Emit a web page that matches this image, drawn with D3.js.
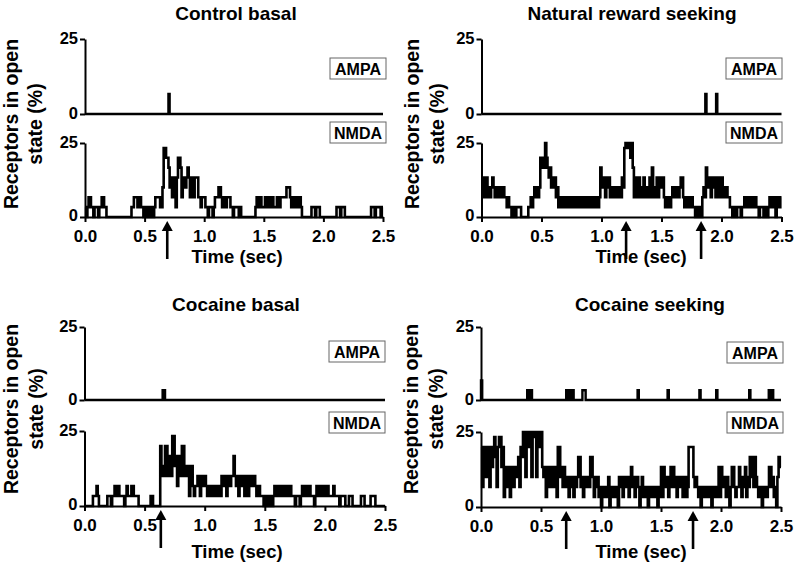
<!DOCTYPE html>
<html><head><meta charset="utf-8">
<script src="https://cdn.jsdelivr.net/npm/d3@7"></script>
<style>
body{margin:0;background:#fff}
svg{display:block}
text{font-family:"Liberation Sans",Arial,Helvetica,sans-serif;font-weight:bold;fill:#000}
</style>
</head><body>
<svg id="chart" width="800" height="572"></svg>
<script>
// ---------------- DATA ----------------
const panelTitles = ["Control basal", "Natural reward seeking", "Cocaine basal", "Cocaine seeking"];
const xTickValues = [0, 0.5, 1.0, 1.5, 2.0, 2.5];
const yTickValues = [0, 25];
const timeStep = 0.01;          // s per sample of the NMDA traces
const percentPerReceptor = 100 / 30; // one open receptor (%)

// NMDA traces: number of open receptors, one value per 0.01 s (0.0 - 2.5 s)
const nmdaControlBasal = [
 1,0,1,2,2,1,1,0,1,1, 1,0,1,1,2,2,1,1,0,0, 0,0,0,0,0,0,0,0,0,0, 0,0,0,0,0,0,0,0,0,1,
 1,2,2,2,1,2,2,1,1,0, 1,0,1,1,0,1,1,0,1,2, 2,2,2,1,1,3,7,7,6,6, 5,3,4,2,4,3,1,4,6,6,
 5,2,4,4,3,4,5,4,2,4, 4,2,4,4,4,2,2,1,2,2, 2,1,1,0,1,1,1,0,1,2, 2,2,3,3,2,1,2,2,1,2,
 2,2,1,1,0,1,1,1,1,0, 1,0,0,0,0,0,0,0,0,0, 0,0,0,1,2,1,1,2,1,1, 1,2,2,1,2,1,2,2,1,1,
 1,2,1,1,2,2,2,2,2,3, 3,3,2,1,2,2,1,2,2,1, 2,1,0,0,0,0,0,0,0,0, 1,1,1,0,1,1,1,0,0,0,
 0,0,0,0,0,0,0,0,0,0, 0,1,1,1,0,1,1,1,0,0, 0,0,0,0,0,0,0,0,0,0, 0,0,0,0,0,0,0,0,0,0,
 1,1,1,0,1,1,1,1,0,1
];
const nmdaNaturalReward = [
 3,4,2,3,4,2,3,2,3,4, 3,2,3,2,2,3,3,2,3,2, 2,1,2,1,1,0,1,1,0,1, 1,1,1,0,0,0,0,0,0,1,
 1,2,1,2,3,2,3,2,3,6, 5,6,5,8,6,5,4,5,3,4, 3,4,2,3,1,2,1,2,1,2, 1,2,1,1,2,1,2,1,1,2,
 1,1,2,1,2,1,1,2,1,2, 1,2,1,1,2,1,2,1,2,5, 3,4,3,2,4,3,4,2,3,2, 3,2,3,2,2,3,2,4,3,7,
 8,7,8,8,6,8,5,2,3,4, 2,4,3,2,3,4,2,3,2,3, 4,2,5,3,2,3,4,2,4,4, 3,4,2,1,2,1,2,1,2,3,
 2,3,2,3,2,3,4,4,2,1, 2,1,2,2,1,2,1,1,0,1, 1,0,1,0,2,3,2,5,3,4, 3,2,4,3,4,2,3,4,2,3,
 4,2,3,2,3,2,2,1,1,0, 1,1,0,1,1,1,0,1,1,2, 2,1,2,2,1,2,1,1,2,1, 1,0,1,1,1,0,1,1,0,1,
 2,1,1,2,1,0,2,2,1,2
];
const nmdaCocaineBasal = [
 0,0,0,0,0,0,0,1,1,1, 2,1,0,0,0,0,0,0,0,1, 1,1,0,1,1,2,2,1,2,1, 1,1,1,0,1,2,1,1,1,2,
 2,1,1,1,1,0,0,0,0,0, 0,0,0,0,0,1,1,0,0,0, 0,0,0,6,3,4,3,6,6,3, 4,5,3,7,7,4,5,2,4,5,
 3,6,6,3,4,3,4,1,3,4, 2,1,2,2,3,3,1,3,3,2, 3,2,1,1,2,1,2,2,1,2, 1,2,1,1,3,2,3,3,1,3,
 3,2,3,3,5,3,2,3,1,3, 2,3,3,1,3,2,1,3,3,2, 3,3,2,1,2,2,1,1,1,0, 1,0,1,1,0,1,0,1,2,1,
 2,2,1,2,1,2,2,1,2,2, 1,2,1,1,1,0,1,1,1,0, 1,2,2,1,2,2,1,2,1,1, 1,0,1,2,2,1,2,1,2,2,
 1,1,2,1,1,1,1,2,1,1, 1,1,0,1,1,1,1,0,0,0, 1,1,1,0,0,0,0,0,0,0, 1,1,1,0,0,0,0,0,1,1,
 1,1,0,0,0,0,0,0,0,0
];
const nmdaCocaineSeeking = [
 6,2,5,6,3,6,5,2,6,4, 6,7,5,2,6,7,7,4,6,1, 4,2,3,4,1,3,4,2,4,3, 3,5,2,6,5,8,6,3,8,6,
 8,6,3,8,7,8,3,7,8,6, 8,4,3,4,1,3,4,2,3,4, 2,3,4,1,6,6,3,4,2,4, 3,2,3,1,2,3,2,1,3,2,
 3,5,5,2,3,1,3,3,2,3, 2,5,5,3,1,3,2,3,1,2, 0,2,1,2,2,1,3,0,2,1, 2,2,1,2,0,3,2,3,1,3,
 3,2,3,1,3,4,2,3,1,2, 3,2,0,2,3,1,2,1,2,0, 1,2,1,2,2,1,2,0,1,2, 4,1,4,3,2,3,1,3,4,2,
 4,2,3,1,3,2,3,3,1,2, 3,1,2,6,6,6,6,3,2,3, 2,1,2,0,2,1,2,2,1,2, 1,2,0,2,1,2,1,2,4,1,
 4,2,3,2,1,3,2,0,2,4, 4,2,1,2,2,4,3,1,3,2, 4,1,3,2,5,3,5,2,5,3, 2,1,2,2,0,2,1,2,1,2,
 4,4,2,3,1,2,0,3,5,4
];

// AMPA openings: [start s, end s, open receptors]
const ampaControlBasal = [[0.70, 0.71, 2]];
const ampaNaturalReward = [[1.865, 1.875, 2], [1.955, 1.965, 2]];
const ampaCocaineBasal = [[0.65, 0.67, 1]];
const ampaCocaineSeeking = [
 [0.000, 0.010, 2], [0.385, 0.395, 1], [0.415, 0.425, 1], [0.710, 0.720, 1],
 [0.738, 0.748, 1], [0.762, 0.772, 1], [0.845, 0.872, 1], [1.305, 1.315, 1],
 [1.555, 1.565, 1], [1.820, 1.830, 1], [1.960, 1.970, 1], [2.235, 2.245, 1],
 [2.398, 2.408, 1], [2.425, 2.435, 1]
];

// stimulus arrows (s)
const arrowsControlBasal = [0.69];
const arrowsNaturalReward = [1.205, 1.83];
const arrowsCocaineBasal = [0.635];
const arrowsCocaineSeeking = [0.71, 1.767];

// ---------------- LAYOUT ----------------
const panels = [
 {title: panelTitles[0], nmda: nmdaControlBasal, ampa: ampaControlBasal, arrows: arrowsControlBasal,
  x0: 85, x1: 383, aT: 39, aB: 114, nT: 143, nB: 217, titleX: 236, titleY: 20, timeX: 237, timeY: 263,
  lab1: 18, lab2: 42, labY: 124, box: {x: 330, aY: 58, nY: 122}},
 {title: panelTitles[1], nmda: nmdaNaturalReward, ampa: ampaNaturalReward, arrows: arrowsNaturalReward,
  x0: 481.5, x1: 781.5, aT: 39, aB: 114, nT: 143, nB: 217, titleX: 632, titleY: 20, timeX: 641, timeY: 263,
  lab1: 419, lab2: 444, labY: 124, box: {x: 726, aY: 58, nY: 122}},
 {title: panelTitles[2], nmda: nmdaCocaineBasal, ampa: ampaCocaineBasal, arrows: arrowsCocaineBasal,
  x0: 84.5, x1: 385, aT: 327, aB: 400, nT: 431, nB: 506, titleX: 236, titleY: 311, timeX: 237, timeY: 558,
  lab1: 18, lab2: 43, labY: 409, box: {x: 329, aY: 341, nY: 412}},
 {title: panelTitles[3], nmda: nmdaCocaineSeeking, ampa: ampaCocaineSeeking, arrows: arrowsCocaineSeeking,
  x0: 481, x1: 781, aT: 327, aB: 400, nT: 432, nB: 507, titleX: 650, titleY: 311, timeX: 641, timeY: 558,
  lab1: 418, lab2: 443, labY: 409, box: {x: 727, aY: 342, nY: 412}}
];

const svg = d3.select("#chart");
const stepLine = d3.line().curve(d3.curveStepAfter);

function styleAxis(g, fontSize) {
  g.select(".domain").attr("stroke", "#000").attr("stroke-width", 2);
  g.selectAll(".tick line").attr("stroke", "#000").attr("stroke-width", 2);
  g.selectAll(".tick text").attr("font-size", fontSize).attr("font-weight", "bold")
    .attr("font-family", "'Liberation Sans', Arial, sans-serif").attr("fill", "#000");
}

function labelBox(x, y, txt) {
  const g = svg.append("g");
  g.append("rect").attr("x", x).attr("y", y).attr("width", 56).attr("height", 21)
    .attr("fill", "#fff").attr("stroke", "#666").attr("stroke-width", 1);
  g.append("text").attr("x", x + 28).attr("y", y + 16.5).attr("text-anchor", "middle")
    .attr("font-size", 16).text(txt);
}

panels.forEach(p => {
  const x = d3.scaleLinear().domain([0, 2.5]).range([p.x0, p.x1]);
  const yA = d3.scaleLinear().domain([0, 25]).range([p.aB, p.aT]).clamp(true);
  const yN = d3.scaleLinear().domain([0, 25]).range([p.nB, p.nT]).clamp(true);

  // title
  svg.append("text").attr("x", p.titleX).attr("y", p.titleY).attr("text-anchor", "middle")
    .attr("font-size", 19).text(p.title);

  // y label (two lines)
  svg.append("text").attr("transform", `translate(${p.lab1},${p.labY}) rotate(-90)`)
    .attr("text-anchor", "middle").attr("font-size", 19.5).text("Receptors in open");
  svg.append("text").attr("transform", `translate(${p.lab2},${p.labY}) rotate(-90)`)
    .attr("text-anchor", "middle").attr("font-size", 19.5).text("state (%)");

  // AMPA trace
  const ampaPts = [[0, 0]];
  p.ampa.forEach(([s, e, n]) => { ampaPts.push([s, n * percentPerReceptor]); ampaPts.push([e, 0]); });
  ampaPts.push([2.5, 0]);
  svg.append("path").attr("d", stepLine(ampaPts.map(d => [x(d[0]), yA(d[1])])))
    .attr("fill", "none").attr("stroke", "#000").attr("stroke-width", 2.4);

  const gA = svg.append("g").attr("transform", `translate(${p.x0},0)`)
    .call(d3.axisLeft(yA).tickValues(yTickValues).tickFormat(d3.format("d")).tickSize(5).tickSizeOuter(0).tickPadding(2));
  styleAxis(gA, 16.5);
  gA.selectAll(".tick text").attr("dy", "0.28em");

  // NMDA trace
  const nmdaPts = p.nmda.map((v, i) => [i * timeStep, v * percentPerReceptor]);
  nmdaPts.push([2.5, nmdaPts[nmdaPts.length - 1][1]]);
  svg.append("path").attr("d", stepLine(nmdaPts.map(d => [x(d[0]), yN(d[1])])))
    .attr("fill", "none").attr("stroke", "#000").attr("stroke-width", 2.6).attr("stroke-linejoin", "miter");

  const gN = svg.append("g").attr("transform", `translate(${p.x0},0)`)
    .call(d3.axisLeft(yN).tickValues(yTickValues).tickFormat(d3.format("d")).tickSize(5).tickSizeOuter(0).tickPadding(2));
  styleAxis(gN, 16.5);
  gN.selectAll(".tick text").attr("dy", d => d === 0 ? "0.2em" : "0.28em");

  const gX = svg.append("g").attr("transform", `translate(0,${p.nB})`)
    .call(d3.axisBottom(x).tickValues(xTickValues).tickFormat(d3.format(".1f")).tickSize(5).tickSizeOuter(0).tickPadding(7.5));
  styleAxis(gX, 17);

  // time label
  svg.append("text").attr("x", p.timeX).attr("y", p.timeY).attr("text-anchor", "middle")
    .attr("font-size", 18.5).text("Time (sec)");

  // arrows
  p.arrows.forEach(t => {
    const ax = x(t), tip = p.nB + 4;
    svg.append("line").attr("x1", ax).attr("x2", ax).attr("y1", tip + 8).attr("y2", tip + 38)
      .attr("stroke", "#000").attr("stroke-width", 2.6);
    svg.append("path").attr("d", `M${ax},${tip} L${ax - 5.5},${tip + 10} L${ax + 5.5},${tip + 10} Z`)
      .attr("fill", "#000");
  });

  // labels
  labelBox(p.box.x, p.box.aY, "AMPA");
  labelBox(p.box.x, p.box.nY, "NMDA");
});
</script>
</body></html>
